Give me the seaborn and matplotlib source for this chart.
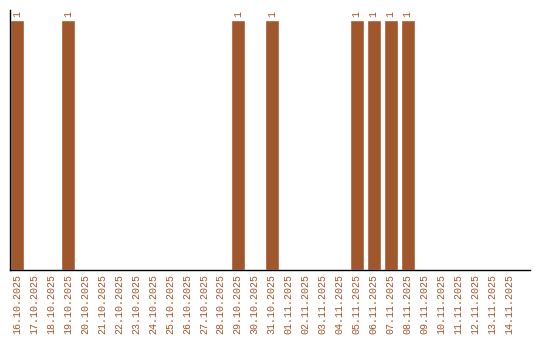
import matplotlib
matplotlib.use("Agg")
import matplotlib.pyplot as plt
import seaborn as sns
import pandas as pd

dates = ["16.10.2025", "17.10.2025", "18.10.2025", "19.10.2025", "20.10.2025",
         "21.10.2025", "22.10.2025", "23.10.2025", "24.10.2025", "25.10.2025",
         "26.10.2025", "27.10.2025", "28.10.2025", "29.10.2025", "30.10.2025",
         "31.10.2025", "01.11.2025", "02.11.2025", "03.11.2025", "04.11.2025",
         "05.11.2025", "06.11.2025", "07.11.2025", "08.11.2025", "09.11.2025",
         "10.11.2025", "11.11.2025", "12.11.2025", "13.11.2025", "14.11.2025"]
counts = [1, 0, 0, 1, 0, 0, 0, 0, 0, 0, 0, 0, 0, 1, 0,
          1, 0, 0, 0, 0, 1, 1, 1, 1, 0, 0, 0, 0, 0, 0]

color = "#A0572B"
sns.set_style("white")
plt.rcParams['font.family'] = ['Liberation Mono', 'DejaVu Sans Mono']

df = pd.DataFrame({"date": dates, "count": counts})
fig = plt.figure(figsize=(5.4, 3.4), dpi=100)
ax = fig.add_axes([10/540, 70/340, 520/540, 260/340])
sns.barplot(data=df, x="date", y="count", color=color, saturation=1, width=0.82, ax=ax)

for i, v in enumerate(counts):
    if v > 0:
        ax.text(i, v + 0.012, str(v), rotation=90, ha="center", va="bottom",
                fontsize=7, color=color)

ax.set_xlim(-0.41, 30.2)
ax.set_ylim(0, 1.04)
ax.set_xlabel("")
ax.set_ylabel("")
ax.set_yticks([])
ax.tick_params(axis="x", rotation=90, labelsize=7.2, colors=color, length=0, pad=3)
for s in ["top", "right"]:
    ax.spines[s].set_visible(False)
for s in ["left", "bottom"]:
    ax.spines[s].set_color("black")
    ax.spines[s].set_linewidth(1)

fig.savefig("out.png", dpi=100)
